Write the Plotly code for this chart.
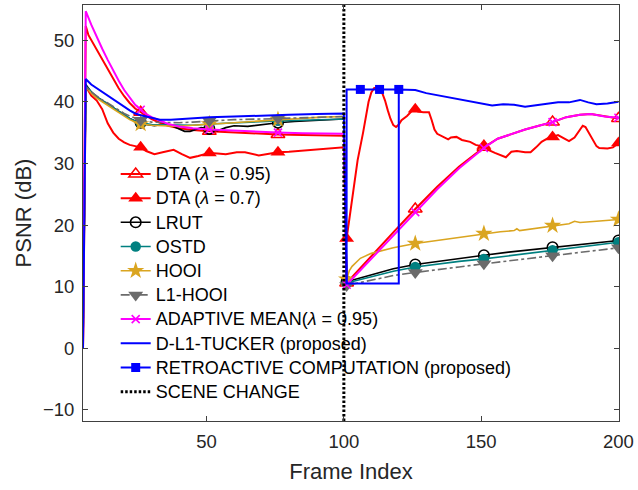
import plotly.graph_objects as go

# ---------------- data (PSNR in dB per frame index) ----------------
SCENE_CHANGE_FRAME = 100
MARK_FRAMES = [26, 51, 76, 101, 126, 151, 176, 200]
RETRO_MARK_FRAMES = [106, 113, 120]

dta95_x = [5, 6, 7, 8, 10, 12, 14, 16, 18, 20, 22, 24, 26, 28, 30, 33, 36, 40, 45, 51, 60, 70, 76, 85, 92, 100,
           101, 110, 118, 126, 134, 142, 151, 156, 161, 166, 171, 176, 181, 186, 190, 195, 200]
dta95_y = [0, 52.3, 50.8, 50.0, 48.6, 47.0, 45.3, 43.7, 42.2, 40.9, 39.8, 38.9, 38.3, 37.7, 37.2, 36.6, 36.1, 35.7, 35.4, 35.2, 35.0, 34.8, 34.7, 34.6, 34.5, 34.5,
           10.6, 15.0, 18.8, 22.6, 26.2, 29.5, 32.6, 34.0, 34.8, 35.5, 36.1, 36.7, 37.5, 37.9, 38.0, 37.6, 37.3]

dta7_x = [5, 6, 8, 10, 12, 14, 16, 18, 20, 22, 24, 26, 28, 31, 34, 38, 41, 44, 47, 51, 54, 57, 61, 64, 69, 73, 76, 80, 85, 90, 95, 100,
          101, 103, 105, 107, 109, 110, 111, 112, 113, 114, 115, 116, 117, 118, 119, 120, 121, 123, 125, 126, 127, 129, 131, 132, 133, 134,
          136, 138, 139, 141, 143, 146, 148, 150, 151, 153, 155, 157, 159, 161, 163, 166, 168, 170, 172, 174, 176, 178, 180, 182, 184,
          186, 187, 188, 190, 192, 193, 196, 198, 200]
dta7_y = [0, 42.5, 41.0, 40.2, 38.8, 36.5, 35.0, 34.0, 33.4, 33.0, 32.8, 32.6, 32.0, 31.5, 31.8, 32.2, 31.5, 30.9, 31.2, 31.7, 31.6, 31.5, 31.8, 31.8, 31.3, 31.6, 31.8, 31.9, 32.1, 32.3, 32.5, 32.6,
          17.8, 24.0, 30.5, 35.0, 40.0, 41.5, 42.2, 42.3, 42.0, 41.4, 40.2, 38.6, 37.2, 36.2, 35.9, 36.3, 37.0, 37.7, 38.6, 38.8, 38.4, 38.3, 38.3, 37.0, 35.5, 34.8,
          34.3, 33.9, 34.2, 34.3, 33.8, 33.5, 33.0, 32.8, 32.9, 32.1, 31.7, 31.3, 31.0, 31.9, 32.0, 31.8, 31.8, 32.6, 33.5, 34.0, 34.3, 34.6, 34.1, 33.6, 34.2,
          35.6, 36.1, 35.9, 34.3, 32.8, 32.5, 32.4, 32.6, 33.3]

lrut_x = [5, 6, 8, 10, 12, 14, 16, 18, 20, 22, 24, 26, 28, 31, 35, 38, 40, 42, 44, 46, 48, 51, 54, 57, 60, 65, 70, 76, 82, 88, 94, 100,
          101, 110, 118, 126, 134, 142, 151, 160, 168, 176, 184, 192, 200]
lrut_y = [0, 42.8, 41.6, 40.8, 40.2, 39.6, 39.0, 38.4, 37.8, 37.3, 36.9, 36.6, 36.3, 36.1, 36.4, 36.0, 35.6, 35.2, 35.2, 35.5, 35.8, 35.6, 35.3, 35.8, 36.1, 36.0, 36.3, 36.6, 36.8, 36.9, 37.1, 37.2,
          10.8, 11.9, 12.9, 13.6, 14.1, 14.6, 15.1, 15.6, 16.0, 16.4, 16.8, 17.2, 17.5]

ostd_x = [5, 6, 8, 10, 12, 14, 16, 18, 20, 22, 24, 26, 30, 35, 40, 45, 51, 60, 70, 76, 85, 92, 100,
          101, 110, 118, 126, 134, 142, 151, 160, 168, 176, 184, 192, 200]
ostd_y = [0, 42.6, 41.6, 40.8, 40.2, 39.6, 39.0, 38.4, 37.8, 37.3, 36.9, 36.6, 36.3, 36.3, 36.2, 36.2, 36.4, 36.6, 36.8, 36.9, 37.0, 37.1, 37.2,
          10.6, 11.6, 12.5, 13.2, 13.7, 14.1, 14.5, 15.0, 15.5, 15.9, 16.4, 16.8, 17.2]

hooi_x = [5, 6, 8, 10, 12, 14, 16, 18, 20, 22, 24, 26, 30, 35, 40, 45, 51, 60, 70, 76, 85, 92, 100,
          101, 102, 103, 106, 110, 114, 118, 126, 134, 142, 151, 157, 162, 163, 164, 170, 176, 182, 184, 186, 192, 200]
hooi_y = [0, 42.4, 41.4, 40.6, 40.0, 39.4, 38.8, 38.2, 37.6, 37.1, 36.7, 36.4, 36.2, 36.1, 36.0, 36.2, 36.4, 36.6, 36.9, 37.1, 37.3, 37.5, 37.6,
          11.2, 12.6, 13.3, 14.6, 15.4, 15.9, 16.3, 17.0, 17.5, 18.0, 18.6, 18.9, 19.1, 19.4, 19.1, 19.5, 19.9, 20.2, 20.6, 20.4, 20.6, 20.9]

l1hooi_x = [5, 6, 8, 10, 12, 14, 16, 18, 20, 22, 24, 26, 30, 35, 40, 45, 51, 60, 70, 76, 85, 92, 100,
            101, 110, 118, 126, 134, 142, 151, 160, 168, 176, 184, 192, 200]
l1hooi_y = [0, 42.5, 41.6, 40.9, 40.3, 39.8, 39.2, 38.6, 38.1, 37.7, 37.3, 37.0, 36.7, 36.6, 36.6, 36.7, 36.9, 37.1, 37.2, 37.3, 37.4, 37.5, 37.6,
            10.2, 11.1, 11.8, 12.3, 12.8, 13.2, 13.7, 14.2, 14.6, 15.0, 15.5, 15.9, 16.3]

amean_x = [5, 6, 8, 10, 12, 14, 16, 18, 20, 22, 24, 26, 28, 30, 33, 36, 40, 45, 51, 60, 70, 76, 85, 92, 100,
           101, 110, 118, 126, 134, 142, 151, 156, 161, 166, 171, 176, 181, 186, 190, 195, 200]
amean_y = [0, 54.7, 52.5, 50.5, 48.6, 46.8, 45.0, 43.4, 41.9, 40.6, 39.5, 38.7, 38.0, 37.5, 36.9, 36.4, 36.0, 35.7, 35.5, 35.3, 35.1, 35.0, 34.9, 34.8, 34.8,
           10.3, 14.5, 18.2, 22.1, 25.8, 29.2, 32.5, 34.0, 34.8, 35.5, 36.1, 36.7, 37.5, 37.9, 38.0, 37.6, 37.4]

dl1_x = [5, 6, 8, 10, 12, 14, 16, 18, 20, 22, 24, 26, 30, 33, 37, 40, 45, 51, 60, 70, 80, 90, 100,
         101, 120, 120, 124, 126, 130, 135, 140, 145, 150, 154, 158, 162, 166, 170, 174, 178, 182, 186, 189, 192, 196, 200]
dl1_y = [0, 43.7, 42.8, 42.2, 41.6, 40.9, 40.3, 39.7, 39.1, 38.6, 38.1, 37.8, 37.4, 37.1, 37.1, 37.2, 37.3, 37.5, 37.6, 37.8, 37.9, 38.0, 38.1,
         10.5, 10.5, 42.0, 41.9, 41.9, 41.4, 41.0, 40.6, 40.2, 39.7, 39.4, 39.6, 39.5, 39.2, 39.4, 39.7, 39.9, 39.9, 40.3, 39.9, 39.6, 39.7, 40.0]

retro_x = [101, 101, 106, 113, 120]
retro_y = [10.5, 42.0, 42.0, 42.0, 42.0]

X_RANGE = [5, 200.2]
Y_RANGE = [-11.8, 55.7]

FONT = "Liberation Sans, Arial, Helvetica, sans-serif"
LEGEND_TEXT_PX = 18

fig = go.Figure()


def pick(xs, ys, frames):
    """Values of a series at the given frames (frames are part of the series)."""
    lookup = dict(zip(xs, ys))
    fx = [f for f in frames if f in lookup]
    return fx, [lookup[f] for f in fx]


def legend_label(text):
    return f'<span style="font-size:{LEGEND_TEXT_PX}px">{text}</span>'


def add_series(name, xs, ys, color, width, dash, marker, frames):
    fig.add_trace(go.Scatter(x=xs, y=ys, mode="lines", showlegend=False, hoverinfo="skip",
                             line=dict(color=color, width=width, dash=dash)))
    if marker is not None:
        mx, my = pick(xs, ys, frames)
        fig.add_trace(go.Scatter(x=mx, y=my, mode="markers", showlegend=False, hoverinfo="skip",
                                 marker=marker))
    fig.add_trace(go.Scatter(x=[None], y=[None], name=legend_label(name),
                             mode="lines+markers" if marker is not None else "lines",
                             line=dict(color=color, width=width, dash=dash),
                             marker=marker if marker is not None else None))


RED = "#FF0000"
BLUE = "#0000FF"
MAGENTA = "#FF00FF"
TEAL = "#008080"
GOLD = "#DAA520"
GRAY = "#6B6B6B"

add_series("DTA (<i>λ</i> = 0.95)", dta95_x, dta95_y, RED, 2, "solid",
           dict(symbol="triangle-up-open", size=12, color=RED, line=dict(color=RED, width=1.5)), MARK_FRAMES)
add_series("DTA (<i>λ</i> = 0.7)", dta7_x, dta7_y, RED, 2, "solid",
           dict(symbol="triangle-up", size=13, color=RED, line=dict(width=0)), MARK_FRAMES)
add_series("LRUT", lrut_x, lrut_y, "#000000", 1.6, "solid",
           dict(symbol="circle-open", size=10.5, color="#000000", line=dict(color="#000000", width=1.6)), MARK_FRAMES)
add_series("OSTD", ostd_x, ostd_y, TEAL, 1.6, "solid",
           dict(symbol="circle", size=10.5, color=TEAL, line=dict(width=0)), MARK_FRAMES)
add_series("HOOI", hooi_x, hooi_y, GOLD, 1.6, "solid",
           dict(symbol="star", size=13, color=GOLD, line=dict(width=0)), MARK_FRAMES)
add_series("L1-HOOI", l1hooi_x, l1hooi_y, GRAY, 1.6, "dashdot",
           dict(symbol="triangle-down", size=13, color=GRAY, line=dict(width=0)), MARK_FRAMES)
add_series("ADAPTIVE MEAN(<i>λ</i> = 0.95)", amean_x, amean_y, MAGENTA, 2, "solid",
           dict(symbol="x-thin-open", size=8, color=MAGENTA, line=dict(color=MAGENTA, width=1.6)), MARK_FRAMES)
add_series("D-L1-TUCKER (proposed)", dl1_x, dl1_y, BLUE, 2, "solid", None, None)
add_series("RETROACTIVE COMPUTATION (proposed)", retro_x, retro_y, BLUE, 2, "solid",
           dict(symbol="square", size=9, color=BLUE, line=dict(width=0)), RETRO_MARK_FRAMES)

# scene change marker spanning the full vertical range
fig.add_trace(go.Scatter(x=[SCENE_CHANGE_FRAME, SCENE_CHANGE_FRAME], y=Y_RANGE, mode="lines",
                         name=legend_label("SCENE CHANGE"), hoverinfo="skip",
                         line=dict(color="#000000", width=3, dash="2.5px,2px")))

axis_common = dict(showline=True, linecolor="#404040", linewidth=1, mirror="ticks", ticks="inside",
                   ticklen=5, tickcolor="#404040", showgrid=False, zeroline=False,
                   tickfont=dict(family=FONT, size=18.5, color="#262626"),
                   ticklabeloverflow="allow")

fig.update_layout(
    width=638, height=490,
    margin=dict(l=83, r=14, t=4, b=69),
    paper_bgcolor="white", plot_bgcolor="white",
    font=dict(family=FONT),
    xaxis=dict(range=X_RANGE, tickvals=[50, 100, 150, 200],
               title=dict(text="Frame Index", font=dict(family=FONT, size=22, color="#262626"), standoff=12),
               ticklabelstandoff=4, **axis_common),
    yaxis=dict(range=Y_RANGE, tick0=0, dtick=10,
               title=dict(text="PSNR (dB)", font=dict(family=FONT, size=22, color="#262626"), standoff=5),
               ticklabelstandoff=4, **axis_common),
    legend=dict(x=0.061, y=0.635, xanchor="left", yanchor="top", bgcolor="rgba(0,0,0,0)",
                borderwidth=0, font=dict(family=FONT, size=16.3, color="#000000"),
                itemwidth=30, tracegroupgap=0),
    showlegend=True,
)

fig.write_html("out.html")
